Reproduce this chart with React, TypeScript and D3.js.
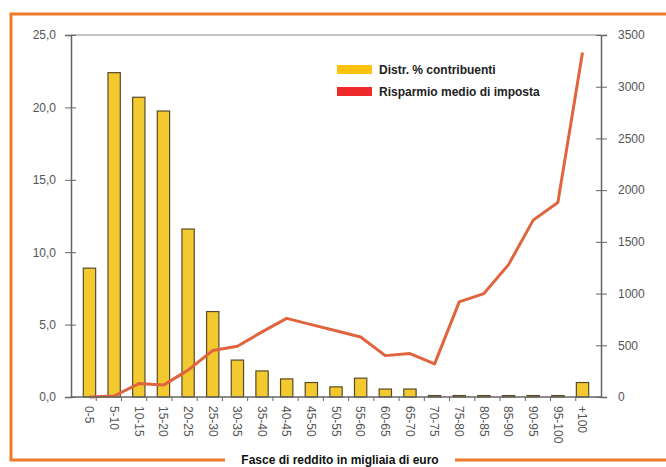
import React, { useEffect, useRef } from "react";
import * as d3 from "d3";

const categories = ["0-5", "5-10", "10-15", "15-20", "20-25", "25-30", "30-35", "35-40", "40-45", "45-50", "50-55", "55-60", "60-65", "65-70", "70-75", "75-80", "80-85", "85-90", "90-95", "95-100", "+100"];
const distribuzione = [8.9, 22.4, 20.7, 19.75, 11.6, 5.9, 2.55, 1.8, 1.25, 1.0, 0.7, 1.3, 0.55, 0.55, 0.1, 0.1, 0.1, 0.1, 0.1, 0.1, 1.0];
const risparmio = [0, 10, 130, 115, 260, 450, 490, 630, 760, 700, 640, 580, 400, 420, 320, 920, 1000, 1280, 1710, 1880, 3330];
const leftTicks = [0, 5, 10, 15, 20, 25];
const rightTicks = [0, 500, 1000, 1500, 2000, 2500, 3000, 3500];
const legendLabels = ["Distr. % contribuenti", "Risparmio medio di imposta"];

const App = () => {
  const svgRef = useRef<SVGSVGElement>(null);

  useEffect(() => {
    const svg = d3.select(svgRef.current);
    svg.selectAll("*").remove();

    const left = 71, right = 601, top = 35, bottom = 397;
    const font = "'Liberation Sans', Arial, sans-serif";

    // orange frame, open at the bottom for the title
    svg.append("path")
      .attr("d", "M225,460 H11 V14 H670 V460 H455")
      .attr("fill", "none")
      .attr("stroke", "#f07a2a")
      .attr("stroke-width", 3);

    const x = d3.scaleBand().domain(categories).range([left, right]).padding(0.5);
    const yL = d3.scaleLinear().domain([0, 25]).range([bottom, top]);
    const yR = d3.scaleLinear().domain([0, 3500]).range([bottom, top]);

    // top line
    svg.append("line")
      .attr("x1", left).attr("x2", right).attr("y1", top).attr("y2", top)
      .attr("stroke", "#888").attr("stroke-width", 1);

    // bars
    svg.append("g").selectAll("rect")
      .data(distribuzione)
      .enter()
      .append("rect")
      .attr("x", (d, i) => x(categories[i])!)
      .attr("y", (d) => yL(d))
      .attr("width", x.bandwidth())
      .attr("height", (d) => bottom - yL(d))
      .attr("fill", "#f2c92e")
      .attr("stroke", "#5a4a2a")
      .attr("stroke-width", 1.2);

    // line
    const line = d3.line<number>()
      .x((d, i) => x(categories[i])! + x.bandwidth() / 2)
      .y((d) => yR(d));
    svg.append("path")
      .datum(risparmio)
      .attr("d", line)
      .attr("fill", "none")
      .attr("stroke", "#e0653e")
      .attr("stroke-width", 3)
      .attr("stroke-linejoin", "round");

    // left axis
    const gL = svg.append("g").attr("transform", `translate(${left},0)`)
      .call(d3.axisLeft(yL).tickValues(leftTicks).tickSize(6).tickPadding(9)
        .tickFormat((d) => d3.format(".1f")(d as number).replace(".", ",")));
    gL.selectAll("line").attr("x2", 5).attr("x1", -6);
    // right axis
    const gR = svg.append("g").attr("transform", `translate(${right},0)`)
      .call(d3.axisRight(yR).tickValues(rightTicks).tickSize(6).tickPadding(11).tickFormat(d3.format("d")));
    gR.selectAll("line").attr("x1", -5).attr("x2", 6);

    // bottom axis
    const gB = svg.append("g").attr("transform", `translate(0,${bottom})`)
      .call(d3.axisBottom(x).tickSize(0).tickPadding(8));
    gB.select(".domain").attr("d", `M${left},0H${right}`);
    gB.selectAll("text")
      .attr("transform", "rotate(90)")
      .attr("text-anchor", "start")
      .attr("dy", "0.35em")
      .attr("x", 9)
      .attr("y", 0);
    svg.append("g").selectAll("line")
      .data(d3.range(1, categories.length))
      .enter()
      .append("line")
      .attr("x1", (d) => left + (d * (right - left)) / categories.length)
      .attr("x2", (d) => left + (d * (right - left)) / categories.length)
      .attr("y1", bottom)
      .attr("y2", bottom + 4)
      .attr("stroke", "#666");

    [gL, gR, gB].forEach((g) => {
      g.select(".domain").attr("stroke", "#666").attr("stroke-width", 1.5);
      g.selectAll(".tick line").attr("stroke", "#666");
      g.selectAll("text").attr("fill", "#555").attr("font-size", 12).attr("font-family", font);
    });

    // legend
    const colors = ["#ffc20e", "#ee2a2a"];
    const lg = svg.append("g");
    legendLabels.forEach((t, i) => {
      lg.append("rect").attr("x", 337).attr("y", 65 + i * 22).attr("width", 35).attr("height", 9).attr("fill", colors[i]);
      lg.append("text").attr("x", 379).attr("y", 74 + i * 22).text(t)
        .attr("font-family", font).attr("font-size", 12).attr("font-weight", "bold").attr("fill", "#222");
    });

    // axis title
    svg.append("text")
      .attr("x", 340).attr("y", 464)
      .attr("text-anchor", "middle")
      .attr("font-family", font).attr("font-size", 12).attr("font-weight", "bold").attr("fill", "#111")
      .text("Fasce di reddito in migliaia di euro");
  }, []);

  return (
    <svg ref={svgRef} width={666} height={467} style={{ position: "absolute", left: 0, top: 0 }}></svg>
  );
};

export default App;
